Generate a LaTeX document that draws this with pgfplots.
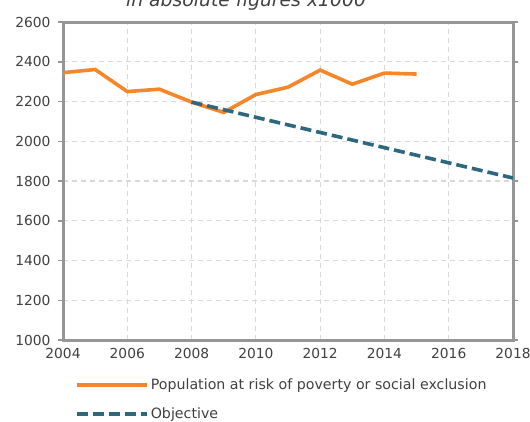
\documentclass[border=0pt]{standalone}
\usepackage{fontspec}
\setmainfont{DejaVu Sans}
\usepackage{pgfplots}
\pgfplotsset{compat=1.18}
\definecolor{orangeL}{RGB}{245,134,42}
\definecolor{tealL}{RGB}{45,104,126}
\definecolor{axgray}{RGB}{150,150,150}
\definecolor{gridgray}{RGB}{217,217,217}
\definecolor{txt}{RGB}{64,64,64}
\begin{document}
\begin{tikzpicture}[x=1pt,y=1pt]
\begin{axis}[
 at={(63pt,81pt)}, anchor=south west,
 scale only axis, width=450pt, height=318pt,
 xmin=2004,xmax=2018,ymin=1000,ymax=2600,
 xtick={2004,2006,...,2018}, ytick={1000,1200,...,2600},
 grid=major,
 major grid style={gridgray, line width=1.2pt, dash pattern=on 5pt off 4pt},
 axis line style={axgray, line width=3pt},
 tick align=outside, major tick length=5pt,
 tick style={axgray, line width=1.5pt},
 xtick style={draw=none},
 /pgf/number format/1000 sep={},
 /pgf/number format/assume math mode=true,
 ticklabel style={font=\fontsize{13.8}{16}\selectfont, text=txt},
 yticklabel style={xshift=-4pt},
 legend style={at={(axis description cs:0.0267,-0.116)}, anchor=north west,
   draw=none, fill=none, font=\fontsize{14.2}{17}\selectfont, text=txt,
   inner sep=0pt, row sep=12.5pt},
 legend cell align=left,
 legend image code/.code={\draw[#1] (0pt,0pt) -- (70pt,0pt);},
]
\addplot[orangeL, line width=3.6pt] coordinates {
(2004,2345)(2005,2361)(2006,2250)(2007,2262)(2008,2197)(2009,2145)
(2010,2235)(2011,2272)(2012,2358)(2013,2287)(2014,2343)(2015,2338)};
\addlegendentry{Population at risk of poverty or social exclusion}
\addplot[tealL, line width=3.6pt, dash pattern=on 11pt off 5pt] coordinates {
(2008,2197)(2018,1815)};
\addlegendentry{Objective}
\end{axis}
\node[font=\fontsize{18.8}{22}\selectfont\itshape, anchor=base, text=txt] at (246,414) {in absolute figures x1000};
\pgfresetboundingbox
\path (0,0) rectangle (530,421);
\end{tikzpicture}
\end{document}
